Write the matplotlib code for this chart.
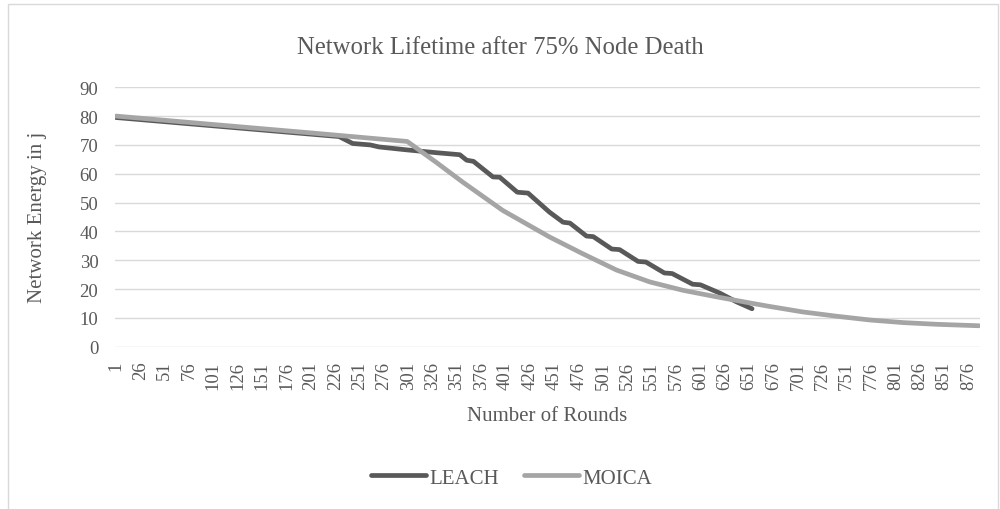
import matplotlib.pyplot as plt
from matplotlib.patches import Rectangle

#---------------------------------------------------------------------#
# Values (round number -> energy in j)   #
#---------------------------------------------------------------------#
leachRounds = [1, 230, 244, 262, 271, 299, 330, 354, 361, 368, 388, 395,
               413, 424, 446, 460, 467, 484, 491, 510, 518, 537, 545, 564,
               572, 593, 601, 621, 638, 654]
leachEnergy = [79.5, 72.9, 70.5, 70.0, 69.3, 68.3, 67.3, 66.6, 64.7, 64.3,
               58.9, 58.8, 53.6, 53.3, 46.7, 43.2, 42.9, 38.4, 38.2, 33.9,
               33.7, 29.6, 29.4, 25.6, 25.4, 21.7, 21.5, 18.6, 15.6, 13.2]

moicaRounds = [1, 100, 200, 300, 330, 357, 398, 446, 480, 515, 549, 583,
               618, 652, 672, 706, 741, 775, 809, 844, 887]
moicaEnergy = [80.0, 77.1, 74.2, 71.2, 63.9, 57.1, 47.3, 38.1, 32.3, 26.6,
               22.5, 19.6, 17.3, 15.2, 14.0, 12.1, 10.6, 9.3, 8.4, 7.8, 7.3]

tickRounds = list(range(1, 877, 25))
yTicks = list(range(0, 91, 10))

textColor = '#595959'
gridColor = '#d9d9d9'

plt.rcParams['font.family'] = ['Liberation Serif', 'DejaVu Serif']

fig = plt.figure(figsize=(10, 5.1), dpi=100)
fig.add_artist(Rectangle((0.008, -0.1), 0.99, 1.09, transform=fig.transFigure,
                         fill=False, edgecolor=gridColor, linewidth=1.0))

ax = fig.add_axes([0.115, 0.318, 0.865, 0.509])
ax.plot(leachRounds, leachEnergy, color='#595959', linewidth=3.4,
        solid_capstyle='round', solid_joinstyle='round', label='LEACH', zorder=3)
ax.plot(moicaRounds, moicaEnergy, color='#a5a5a5', linewidth=3.4,
        solid_capstyle='round', solid_joinstyle='round', label='MOICA', zorder=3)

ax.set_xlim(0, 888)
ax.set_ylim(0, 90)
ax.set_xticks(tickRounds)
ax.set_xticklabels([str(r) for r in tickRounds], rotation=90)
ax.set_yticks(yTicks)
ax.tick_params(axis='both', length=0, labelsize=13.5, colors=textColor)
ax.tick_params(axis='x', pad=10)
ax.tick_params(axis='y', pad=12)
ax.grid(axis='y', color=gridColor, linewidth=1.0)
ax.set_axisbelow(True)
for spine in ax.spines.values():
  spine.set_visible(False)

fig.text(0.5, 0.905, 'Network Lifetime after 75% Node Death', ha='center',
         va='center', fontsize=17.8, color=textColor)
fig.text(0.038, 0.573, 'Network Energy in j', ha='center', va='center',
         rotation=90, fontsize=15, color=textColor)
fig.text(0.547, 0.184, 'Number of Rounds', ha='center', va='center',
         fontsize=15, color=textColor)

fig.legend(loc='center', bbox_to_anchor=(0.512, 0.061), ncol=2, frameon=False,
           fontsize=15, handlelength=2.6, handletextpad=0.2, columnspacing=1.2,
           labelcolor=textColor)

plt.savefig('out.png', dpi=100)
